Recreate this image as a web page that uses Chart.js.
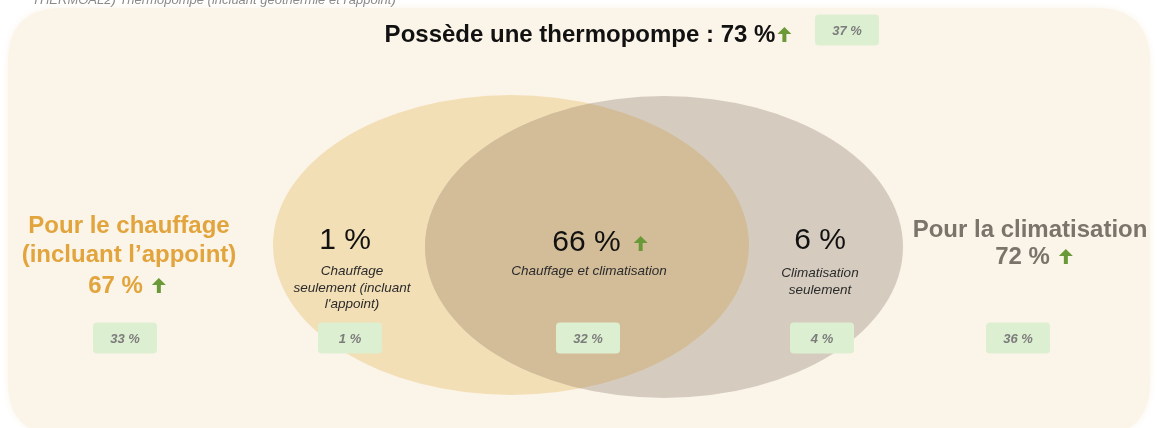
<!DOCTYPE html>
<html lang="fr">
<head>
<meta charset="utf-8">
<title>Thermopompe</title>
<script src="https://cdn.jsdelivr.net/npm/chart.js@4.4.1/dist/chart.umd.min.js"></script>
<style>
  html, body { margin: 0; padding: 0; background: #ffffff; }
  #venn { display: block; }
</style>
</head>
<body>
<canvas id="venn" width="1157" height="428"></canvas>
<script>
// Données
const headerText = "THERMOAL2) Thermopompe (incluant géothermie et l'appoint)";
const totalLabel = "Possède une thermopompe";
const totalValue = 73;
const totalPrevious = 37;
const totalUp = true;

const setLabels = [["Pour le chauffage", "(incluant l’appoint)"], ["Pour la climatisation"]];
const setValues = [67, 72];
const setPrevious = [33, 36];
const setUp = [true, true];

const regionLabels = [
  ["Chauffage", "seulement (incluant", "l'appoint)"],
  ["Chauffage et climatisation"],
  ["Climatisation", "seulement"]
];
const regionValues = [1, 66, 6];
const regionPrevious = [1, 32, 4];
const regionUp = [false, true, false];

// Mise en page (unités des échelles = pixels de l'image)
const ellipses = [
  { cx: 511, cy: 245, rx: 238, ry: 150, color: "#f3dfb6" },
  { cx: 664, cy: 247, rx: 239, ry: 151, color: "#d5ccbf" }
];
const overlapColor = "#d3bd99";
const titlePos = { x: 588, y: 42, box: { x: 847, y: 30 } };
const setPos = [
  { x: 129, lines: [233, 262], valueX: 127, valueY: 293, box: { x: 125, y: 338 }, color: "#e2a43c" },
  { x: 1030, lines: [237], valueX: 1034, valueY: 264, box: { x: 1018, y: 338 }, color: "#7b746a" }
];
const regionPos = [
  { x: 345, y: 249, labelX: 352, labelY: 275, box: { x: 350, y: 338 } },
  { x: 600, y: 251, labelX: 589, labelY: 275, box: { x: 588, y: 338 } },
  { x: 820, y: 249, labelX: 820, labelY: 277, box: { x: 822, y: 338 } }
];

const FONT = "'Liberation Sans', Arial, Helvetica, sans-serif";
const GREEN = "#6a9a38";

function px(chart, x, y) {
  return [chart.scales.x.getPixelForValue(x), chart.scales.y.getPixelForValue(y)];
}

function roundRect(ctx, x, y, w, h, r) {
  ctx.beginPath();
  ctx.moveTo(x + r, y);
  ctx.lineTo(x + w - r, y);
  ctx.quadraticCurveTo(x + w, y, x + w, y + r);
  ctx.lineTo(x + w, y + h - r);
  ctx.quadraticCurveTo(x + w, y + h, x + w - r, y + h);
  ctx.lineTo(x + r, y + h);
  ctx.quadraticCurveTo(x, y + h, x, y + h - r);
  ctx.lineTo(x, y + r);
  ctx.quadraticCurveTo(x, y, x + r, y);
  ctx.closePath();
}

function ellipsePath(chart, e) {
  const [cx, cy] = px(chart, e.cx, e.cy);
  const rx = chart.scales.x.getPixelForValue(e.cx + e.rx) - cx;
  const ry = Math.abs(chart.scales.y.getPixelForValue(e.cy + e.ry) - cy);
  const ctx = chart.ctx;
  ctx.beginPath();
  ctx.ellipse(cx, cy, rx, ry, 0, 0, Math.PI * 2);
}

function drawArrow(ctx, x, baseline) {
  // petite flèche verte vers le haut
  ctx.save();
  ctx.fillStyle = GREEN;
  ctx.beginPath();
  ctx.moveTo(x + 7, baseline - 15);
  ctx.lineTo(x + 14, baseline - 8);
  ctx.lineTo(x + 9, baseline - 8);
  ctx.lineTo(x + 9, baseline);
  ctx.lineTo(x + 5, baseline);
  ctx.lineTo(x + 5, baseline - 8);
  ctx.lineTo(x, baseline - 8);
  ctx.closePath();
  ctx.fill();
  ctx.restore();
}

function drawValue(ctx, text, font, color, cx, baseline, up, gap) {
  ctx.font = font;
  const w = ctx.measureText(text).width;
  const total = up ? w + gap + 14 : w;
  const left = cx - total / 2;
  ctx.fillStyle = color;
  ctx.textAlign = "left";
  ctx.textBaseline = "alphabetic";
  ctx.fillText(text, left, baseline);
  if (up) drawArrow(ctx, left + w + gap, baseline);
}

function drawBox(ctx, text, cx, cy) {
  ctx.save();
  ctx.fillStyle = "#ddefd1";
  roundRect(ctx, cx - 32, cy - 15.5, 64, 31, 4);
  ctx.fill();
  ctx.fillStyle = "#7c7c7c";
  ctx.font = "italic bold 13px " + FONT;
  ctx.textAlign = "center";
  ctx.textBaseline = "middle";
  ctx.fillText(text, cx, cy + 1);
  ctx.restore();
}

const vennPlugin = {
  id: "venn",
  beforeDraw(chart) {
    const ctx = chart.ctx;
    ctx.save();
    ctx.fillStyle = "#ffffff";
    ctx.fillRect(0, 0, chart.width, chart.height);
    // fond crème arrondi
    const [x0, y0] = px(chart, 8, 8);
    const [x1, y1] = px(chart, 1150, 436);
    ctx.shadowColor = "rgba(251,243,230,0.9)";
    ctx.shadowBlur = 6;
    ctx.fillStyle = "#fbf4e8";
    roundRect(ctx, x0, y0, x1 - x0, y1 - y0, 55);
    ctx.fill();
    ctx.shadowBlur = 0;
    // en-tête coupé
    ctx.fillStyle = "#8a8a8a";
    ctx.font = "italic 13px " + FONT;
    ctx.textAlign = "left";
    ctx.textBaseline = "alphabetic";
    const [hx, hy] = px(chart, 32, 4);
    ctx.fillText(headerText, hx, hy);
    ctx.restore();
  },
  beforeDatasetsDraw(chart) {
    const ctx = chart.ctx;
    ctx.save();
    ellipses.forEach((e) => {
      ellipsePath(chart, e);
      ctx.fillStyle = e.color;
      ctx.fill();
    });
    // intersection
    ellipsePath(chart, ellipses[0]);
    ctx.clip();
    ellipsePath(chart, ellipses[1]);
    ctx.fillStyle = overlapColor;
    ctx.fill();
    ctx.restore();
  },
  afterDraw(chart) {
    const ctx = chart.ctx;
    ctx.save();

    // titre
    let [tx, ty] = px(chart, titlePos.x, titlePos.y);
    drawValue(ctx, totalLabel + " : " + totalValue + " %", "bold 24px " + FONT, "#111111", tx, ty, totalUp, 2);
    let [bx, by] = px(chart, titlePos.box.x, titlePos.box.y);
    drawBox(ctx, totalPrevious + " %", bx, by);

    // ensembles
    setPos.forEach((p, i) => {
      ctx.font = "bold 24px " + FONT;
      ctx.fillStyle = p.color;
      ctx.textAlign = "center";
      ctx.textBaseline = "alphabetic";
      setLabels[i].forEach((line, j) => {
        const [lx, ly] = px(chart, p.x, p.lines[j]);
        ctx.fillText(line, lx, ly);
      });
      const [vx, vy] = px(chart, p.valueX, p.valueY);
      drawValue(ctx, setValues[i] + " %", "bold 24px " + FONT, p.color, vx, vy, setUp[i], 9);
      const [sbx, sby] = px(chart, p.box.x, p.box.y);
      drawBox(ctx, setPrevious[i] + " %", sbx, sby);
    });

    // régions
    regionPos.forEach((p, i) => {
      const [vx, vy] = px(chart, p.x, p.y);
      drawValue(ctx, regionValues[i] + " %", "30px " + FONT, "#111111", vx, vy, regionUp[i], 13);
      ctx.font = "italic 13.5px " + FONT;
      ctx.fillStyle = "#2b2b2b";
      ctx.textAlign = "center";
      ctx.textBaseline = "alphabetic";
      regionLabels[i].forEach((line, j) => {
        const [lx, ly] = px(chart, p.labelX, p.labelY + j * 16.5);
        ctx.fillText(line, lx, ly);
      });
      const [rbx, rby] = px(chart, p.box.x, p.box.y);
      drawBox(ctx, regionPrevious[i] + " %", rbx, rby);
    });

    ctx.restore();
  }
};

new Chart(document.getElementById("venn"), {
  type: "scatter",
  data: { datasets: [{ data: [], pointRadius: 0 }] },
  options: {
    responsive: false,
    animation: false,
    devicePixelRatio: 1,
    layout: { padding: 0 },
    scales: {
      x: { type: "linear", min: 0, max: 1157, display: false },
      y: { type: "linear", min: 0, max: 428, reverse: true, display: false }
    },
    plugins: { legend: { display: false }, tooltip: { enabled: false } }
  },
  plugins: [vennPlugin]
});
</script>
</body>
</html>
